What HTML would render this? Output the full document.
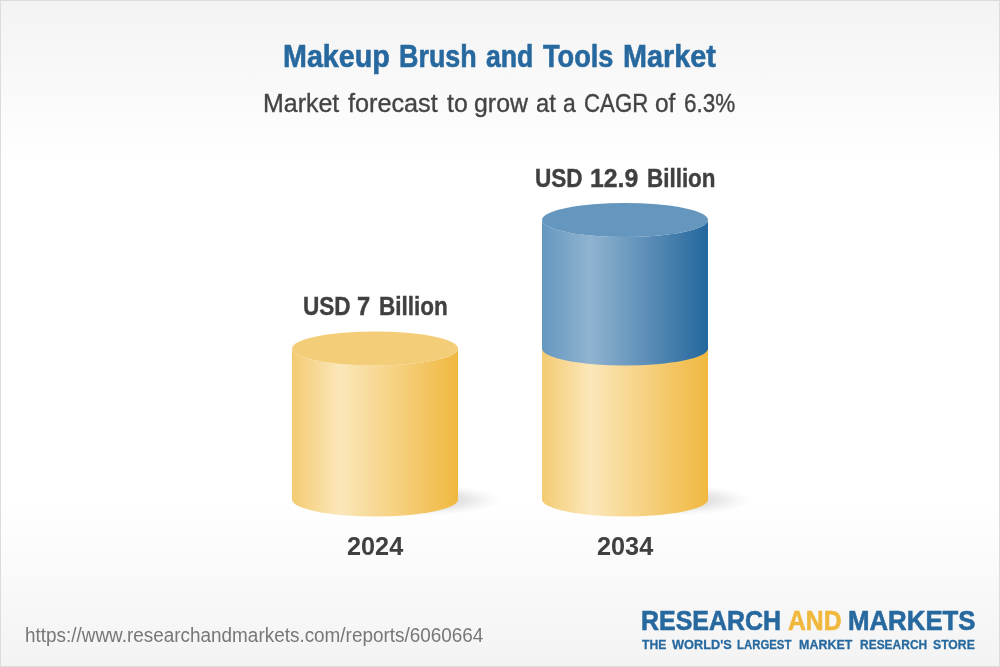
<!DOCTYPE html>
<html lang="en">
<head>
<meta charset="utf-8">
<title>Makeup Brush and Tools Market</title>
<style>
html,body{margin:0;padding:0;}
body{width:1000px;height:667px;overflow:hidden;font-family:"Liberation Sans",sans-serif;}
#card{position:absolute;left:0;top:0;width:1000px;height:667px;box-shadow:inset 0 0 0 1px #dcdcdc;
background:linear-gradient(to bottom,#f3f3f3 0px,#ffffff 167px,#ffffff 500px,#f3f3f3 667px);}
.ln{position:absolute;left:0;width:1000px;height:0;white-space:nowrap;line-height:1;}
.w{position:absolute;top:0;display:block;transform-origin:0 0;white-space:pre;}
.title{font-size:32px;font-weight:bold;color:#27699f;-webkit-text-stroke:0.6px #27699f;}
.sub{font-size:26px;color:#444;-webkit-text-stroke:0.35px #444;}
.val{font-size:26px;font-weight:bold;color:#404040;-webkit-text-stroke:0.4px #404040;}
.yr{font-size:26px;font-weight:bold;color:#404040;}
.url{font-size:19.5px;color:#777;}
.lg1{font-size:28px;font-weight:bold;color:#27699f;-webkit-text-stroke:0.6px;}
.lg1 .and{color:#f0b83c;}
.lg2{font-size:13.5px;font-weight:bold;color:#27699f;-webkit-text-stroke:0.3px;}
svg{position:absolute;left:0;top:0;}
</style>
</head>
<body>
<div id="card">
<svg width="1000" height="667" viewBox="0 0 1000 667">
<defs>
<linearGradient id="gy" x1="0" x2="1" y1="0" y2="0">
<stop offset="0" stop-color="#f4cb72"/>
<stop offset="0.29" stop-color="#fbe7ba"/>
<stop offset="1" stop-color="#f0b840"/>
</linearGradient>
<linearGradient id="gb" x1="0" x2="1" y1="0" y2="0">
<stop offset="0" stop-color="#6497bf"/>
<stop offset="0.29" stop-color="#90b3d0"/>
<stop offset="1" stop-color="#24679d"/>
</linearGradient>
<radialGradient id="sh" cx="0.5" cy="0.5" r="0.5"><stop offset="0" stop-color="#000" stop-opacity="0.22"/><stop offset="0.45" stop-color="#000" stop-opacity="0.13"/><stop offset="0.8" stop-color="#000" stop-opacity="0.035"/><stop offset="1" stop-color="#000" stop-opacity="0"/></radialGradient>
</defs>
<ellipse cx="418" cy="500" rx="84" ry="16" fill="url(#sh)"/>
<ellipse cx="668" cy="500" rx="84" ry="16" fill="url(#sh)"/>
<path d="M292 348.5 A83 17 0 0 0 458 348.5 L458 499.5 A83 17 0 0 1 292 499.5 Z" fill="url(#gy)"/>
<ellipse cx="375" cy="348.5" rx="83" ry="17" fill="#f4cd79"/>
<path d="M542 340 L708 340 L708 499.5 A83 17 0 0 1 542 499.5 Z" fill="url(#gy)"/>
<path d="M542 220 A83 17 0 0 0 708 220 L708 348.5 A83 17 0 0 1 542 348.5 Z" fill="url(#gb)"/>
<ellipse cx="625" cy="220" rx="83" ry="17" fill="#6596bd"/>
</svg>
<div class="ln title" id="title" style="top:40px"><span class="w" style="left:283.01px;transform:scaleX(0.8963)">Makeup</span> <span class="w" style="left:398.92px;transform:scaleX(0.8413)">Brush</span> <span class="w" style="left:485.84px;transform:scaleX(0.8334)">and</span> <span class="w" style="left:542.9px;transform:scaleX(0.8496)">Tools</span> <span class="w" style="left:623.4px;transform:scaleX(0.9005)">Market</span></div>
<div class="ln sub" id="sub" style="top:90px"><span class="w" style="left:263.38px;transform:scaleX(0.9599)">Market</span> <span class="w" style="left:348.3px;transform:scaleX(0.9704)">forecast</span> <span class="w" style="left:446.7px;transform:scaleX(0.9518)">to</span> <span class="w" style="left:474.44px;transform:scaleX(0.9572)">grow</span> <span class="w" style="left:536.09px;transform:scaleX(0.9133)">at</span> <span class="w" style="left:563.24px;transform:scaleX(0.8826)">a</span> <span class="w" style="left:583.89px;transform:scaleX(0.855)">CAGR</span> <span class="w" style="left:655.06px;transform:scaleX(0.9413)">of</span> <span class="w" style="left:684.03px;transform:scaleX(0.8651)">6.3%</span></div>
<div class="ln val" id="v1" style="top:292.6px"><span class="w" style="left:302.63px;transform:scaleX(0.8679)">USD</span> <span class="w" style="left:356.58px;transform:scaleX(0.9099)">7</span> <span class="w" style="left:378.63px;transform:scaleX(0.8665)">Billion</span></div>
<div class="ln val" id="v2" style="top:164.6px"><span class="w" style="left:534.63px;transform:scaleX(0.8679)">USD</span> <span class="w" style="left:589.56px;transform:scaleX(0.9539)">12.9</span> <span class="w" style="left:646.64px;transform:scaleX(0.8626)">Billion</span></div>
<div class="ln yr" id="y1" style="top:533px"><span class="w" style="left:346.6px;transform:scaleX(0.9712)">2024</span></div>
<div class="ln yr" id="y2" style="top:533px"><span class="w" style="left:596.6px;transform:scaleX(0.9712)">2034</span></div>
<div class="ln url" id="url" style="top:626px"><span class="w" style="left:24.73px;transform:scaleX(0.97)">https://www.researchandmarkets.com/reports/6060664</span></div>
<div class="ln lg1" id="logo1" style="top:606.7px"><span class="w" style="left:641.21px;transform:scaleX(0.8902)">RESEARCH</span> <span class="w and" style="left:787.6px;transform:scaleX(0.8835)">AND</span> <span class="w" style="left:848.08px;transform:scaleX(0.9213)">MARKETS</span></div>
<div class="ln lg2" id="logo2" style="top:638.4px"><span class="w" style="left:642.25px;transform:scaleX(0.902)">THE</span> <span class="w" style="left:671.5px;transform:scaleX(0.9447)">WORLD'S</span> <span class="w" style="left:737.1px;transform:scaleX(0.8429)">LARGEST</span> <span class="w" style="left:798.7px;transform:scaleX(0.9231)">MARKET</span> <span class="w" style="left:859.9px;transform:scaleX(0.8865)">RESEARCH</span> <span class="w" style="left:932.9px;transform:scaleX(0.9037)">STORE</span></div>
</div>
</body>
</html>
